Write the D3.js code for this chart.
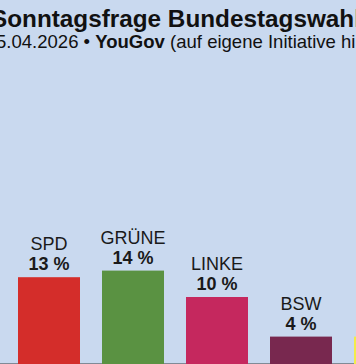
<!DOCTYPE html>
<html><head><meta charset="utf-8">
<script src="https://cdn.jsdelivr.net/npm/d3@7/dist/d3.min.js"></script>
<style>html,body{margin:0;padding:0;background:#c9d9ef;overflow:hidden}svg{display:block;font-family:"Liberation Sans",Arial,sans-serif}</style>
</head><body><div id="chart"></div>
<script>
const parties = ["SPD", "GRÜNE", "LINKE", "BSW", "FDP"];
const values = [13, 14, 10, 4, 4];
const colors = ["#d42d2a", "#5a9242", "#c5285e", "#78284f", "#f2ec4a"];
const titleText = "Sonntagsfrage Bundestagswahl";
const subtitleDate = "5.04.2026 • ";
const subtitleInstitute = "YouGov";
const subtitleNote = " (auf eigene Initiative hin)";

const W = 356, H = 364;
const svg = d3.select("#chart").append("svg").attr("width", W).attr("height", H);
svg.append("rect").attr("width", W).attr("height", H).attr("fill", "#c9d9ef");

const x = d3.scaleBand().domain(parties).range([7, 7 + 84 * parties.length]).paddingInner(22 / 84).paddingOuter(11 / 84);
const y = d3.scaleLinear().domain([0, 20]).range([363, 231]);

svg.append("text").attr("x", -9).attr("y", 27).attr("font-size", 24.3).attr("font-weight", "bold").attr("fill", "#111").text(titleText);
const sub = svg.append("text").attr("x", -4).attr("y", 48).attr("font-size", 18.55).attr("fill", "#111");
sub.append("tspan").text(subtitleDate);
sub.append("tspan").attr("font-weight", "bold").text(subtitleInstitute);
sub.append("tspan").text(subtitleNote);

svg.append("line").attr("x1", 0).attr("x2", W).attr("y1", 363.5).attr("y2", 363.5).attr("stroke", "#808a96").attr("stroke-width", 1);

const g = svg.selectAll("g.bar").data(parties).enter().append("g").attr("class", "bar");
g.append("rect")
  .attr("x", d => x(d)).attr("width", x.bandwidth())
  .attr("y", (d, i) => y(values[i])).attr("height", (d, i) => H - y(values[i]))
  .attr("fill", (d, i) => colors[i]);
g.append("text").attr("x", d => x(d) + x.bandwidth() / 2).attr("y", (d, i) => y(values[i]) - 27)
  .attr("text-anchor", "middle").attr("font-size", 18).attr("fill", "#1a1a1a").text(d => d);
g.append("text").attr("x", d => x(d) + x.bandwidth() / 2).attr("y", (d, i) => y(values[i]) - 7)
  .attr("text-anchor", "middle").attr("font-size", 18).attr("font-weight", "bold").attr("fill", "#1a1a1a").text((d, i) => values[i] + " %");
</script></body></html>
